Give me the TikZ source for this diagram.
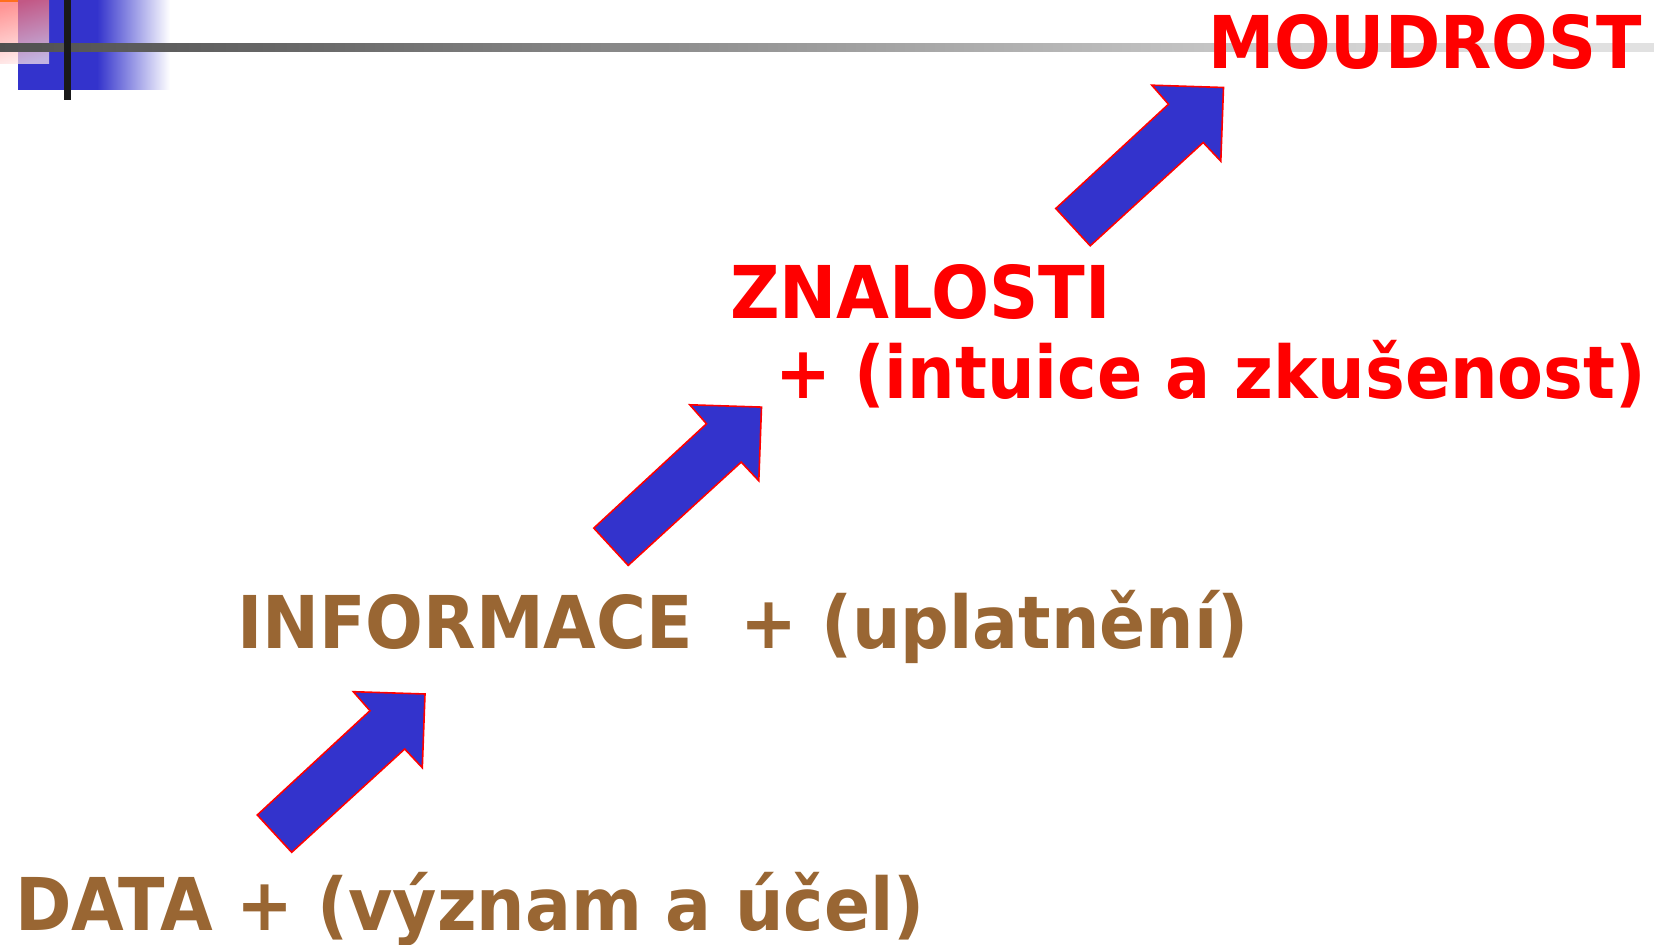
\documentclass[tikz,border=0pt]{standalone}
\usepackage{fontspec}
\setmainfont{DejaVu Sans}
\definecolor{txtred}{HTML}{FF0000}
\definecolor{txtbrown}{HTML}{996633}
\definecolor{arrblue}{HTML}{3333CC}
\definecolor{pinkdark}{HTML}{FF6868}
\definecolor{pinklight}{HTML}{FFEAEA}
\pgfdeclarehorizontalshading{hline}{100bp}{color(0bp)=(black!90); color(18bp)=(black!76); color(35bp)=(black!58); color(60bp)=(black!25); color(70bp)=(black!13); color(100bp)=(black!5)}
\begin{document}
\begin{tikzpicture}[x=0.5pt,y=-0.5pt,
  lbl/.style={anchor=base west, inner sep=0pt, outer sep=0pt, font=\fontsize{36.4}{40}\selectfont\bfseries},
  redlbl/.style={lbl, text=txtred},
  brownlbl/.style={lbl, text=txtbrown},
  bigarrow/.style={fill=arrblue, draw=txtred, line width=0.8pt, line join=miter}]
\useasboundingbox (0,0) rectangle (1654,945);
% decoration top left
\fill[arrblue] (18,0) rectangle (97,90);
\shade[left color=arrblue, right color=white] (97,0) rectangle (170,90);
\shade[shading=axis, top color=pinkdark, bottom color=pinklight, shading angle=15, fill opacity=0.7] (0,0) rectangle (49,64);
\fill[orange!80!red, fill opacity=0.8] (0,0) rectangle (18,2);
\shade[shading=hline] (0,44) rectangle (1654,52);
\fill[black!90] (64,0) rectangle (71,100);
% arrows
\foreach \dx/\dy in {0/0, 336.5/-286.9, 798.5/-606.5}{
  \begin{scope}[shift={(\dx,\dy)}]
  \filldraw[bigarrow] (257.3,815) -- (370,710.7) -- (353.3,691.7) -- (425,694) -- (422.3,767.7) -- (404.7,749) -- (291.7,852.3) -- cycle;
  \end{scope}
}
% texts
\node[redlbl] (moudrost) at (1208,68.6) {\scalebox{0.915}[1]{MOUDROST}};
\node[redlbl] (znalosti) at (730,318.5) {\scalebox{0.94}[1]{ZNALOSTI}};
\node[redlbl] (intuice) at (775,399) {\scalebox{0.918}[1]{+ (intuice a zkušenost)}};
\node[brownlbl] (informace) at (237,649) {\scalebox{0.935}[1]{INFORMACE\ \ + (uplatnění)}};
\node[brownlbl] (data) at (15,930) {\scalebox{0.935}[1]{DATA + (význam a účel)}};
\end{tikzpicture}
\end{document}
